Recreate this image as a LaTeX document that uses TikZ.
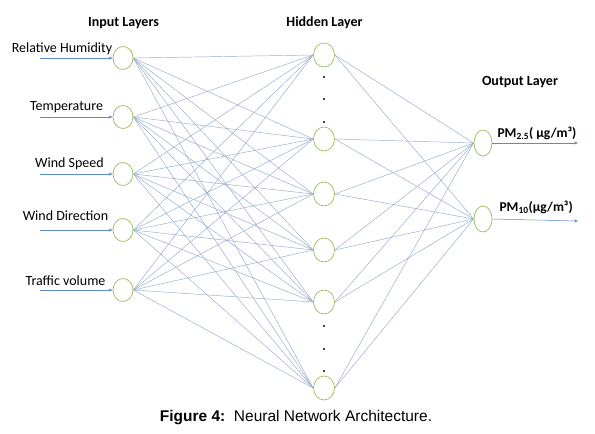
\documentclass[tikz,border=0pt]{standalone}
\usepackage{fontspec}
\setmainfont{Carlito}
\newfontfamily\captionfont{Liberation Sans}
\usepackage{xcolor}
\definecolor{nodeGreen}{HTML}{9BBB59}
\definecolor{linkBlue}{HTML}{94AACB}
\definecolor{arrowBlue}{HTML}{5B8BC9}
\usetikzlibrary{arrows.meta,positioning,shapes.geometric}

\begin{document}
\begin{tikzpicture}[x=1pt, y=-1pt, >={Stealth[length=4pt,width=3pt]}]
    \tikzset{
        neuron/.style={ellipse, draw=nodeGreen, fill=white, line width=0.7pt, minimum width=20pt, minimum height=23pt, inner sep=0pt},
        link/.style={draw=linkBlue, line width=0.45pt},
        feed/.style={draw=arrowBlue, line width=0.5pt, ->},
        layertitle/.style={font=\fontsize{14}{16}\selectfont\bfseries},
        inlabel/.style={font=\fontsize{14}{16}\selectfont},
        outlabel/.style={font=\fontsize{13.5}{16}\selectfont\bfseries, anchor=west},
        gap/.style={circle, fill=black, inner sep=0pt, minimum size=2.4pt},
    }
    \useasboundingbox (0,0) rectangle (595,434);

    % --- Layer titles ---
    \node[layertitle] (tin) at (123.5,23) {Input Layers};
    \node[layertitle] (thid) at (324.5,23) {Hidden Layer};
    \node[layertitle] (tout) at (520,82) {Output Layer};

    % --- Input layer ---
    \node[neuron] (in1) at (123,58) {};
    \node[neuron] (in2) at (123,117) {};
    \node[neuron] (in3) at (123,174) {};
    \node[neuron] (in4) at (123,230) {};
    \node[neuron] (in5) at (123,290) {};

    \node[inlabel] (lab1) at (62,49) {Relative Humidity};
    \node[inlabel] (lab2) at (66.5,107) {Temperature};
    \node[inlabel] (lab3) at (69.5,164) {Wind Speed};
    \node[inlabel] (lab4) at (65.5,216) {Wind Direction};
    \node[inlabel] (lab5) at (65.5,281) {Traffic volume};

    % --- Hidden layer ---
    \node[neuron, minimum width=21pt, minimum height=24pt] (hid1) at (324,55) {};
    \node[neuron, minimum width=21pt, minimum height=24pt] (hid2) at (324,139) {};
    \node[neuron, minimum width=21pt, minimum height=24pt] (hid3) at (324,194) {};
    \node[neuron, minimum width=21pt, minimum height=24pt] (hid4) at (324,250) {};
    \node[neuron, minimum width=21pt, minimum height=24pt] (hid5) at (324,302) {};
    \node[neuron, minimum width=21pt, minimum height=24pt] (hid6) at (324,388) {};

    % skipped units
    \node[gap] (d1) at (324,77) {};
    \node[gap] (d2) at (324,99) {};
    \node[gap] (d3) at (324,122) {};
    \node[gap] (d4) at (324,326) {};
    \node[gap] (d5) at (324,349) {};
    \node[gap] (d6) at (324,371) {};

    % --- Output layer ---
    \node[neuron, minimum width=18pt, minimum height=26pt] (out1) at (483,143) {};
    \node[neuron, minimum width=18pt, minimum height=26pt] (out2) at (483,219) {};

    \node[outlabel] (pm1) at (494,133) {PM\textsubscript{2.5}( µg/m³)};
    \node[outlabel] (pm2) at (496,207) {PM\textsubscript{10}(µg/m³)};

    % --- Weights ---
    \foreach \i in {1,...,5}
        \foreach \j in {1,...,6}
            \draw[link] (in\i.east) -- (hid\j.west);
    \foreach \j in {1,...,6}
        \foreach \k in {1,2}
            \draw[link] (hid\j.east) -- (out\k.west);

    % --- Inputs and outputs ---
    \foreach \i/\y in {1/58,2/117,3/174,4/230,5/290}{
        \coordinate (src\i) at (40,\y);
        \draw[feed] (src\i) -- (in\i.west);
    }
    \coordinate (dst1) at (578,143);
    \coordinate (dst2) at (578,221);
    \draw[feed] (out1.east) -- (dst1);
    \draw[feed] (out2.east) -- (dst2);

    % --- Caption ---
    \node[font=\captionfont\fontsize{15.5}{18}\selectfont] (cap) at (296,418) {\textbf{Figure 4:}\ \ Neural Network Architecture.};

\end{tikzpicture}
\end{document}
